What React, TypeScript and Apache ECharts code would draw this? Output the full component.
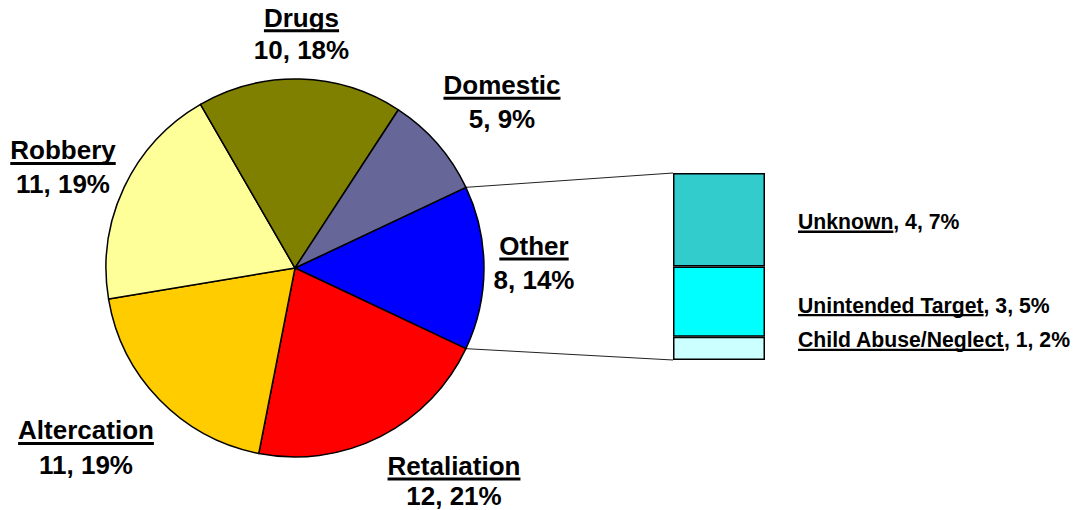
import React, { useEffect, useRef } from "react";
import * as echarts from "echarts";

// ---- data ----
const pieCategories = ["Other", "Retaliation", "Altercation", "Robbery", "Drugs", "Domestic"];
const pieValues = [8, 12, 11, 11, 10, 5];
const pieColors = ["#0000FF", "#FF0000", "#FFCC00", "#FFFF99", "#808000", "#666699"];

const otherCategories = ["Child Abuse/Neglect", "Unintended Target", "Unknown"];
const otherValues = [1, 3, 4];
const otherColors = ["#CCFFFF", "#00FFFF", "#33CCCC"];

// ---- layout ----
const W = 1089;
const H = 510;
const PIE_CX = 295;
const PIE_CY = 268;
const PIE_R = 189;
const BAR_LEFT = 673;
const BAR_TOP = 173;
const BAR_W = 92;
const BAR_H = 187;
const FONT = '"Liberation Sans", Arial, sans-serif';
const PIE_FS = 26;
const BAR_FS = 21.2;

// label placement (Excel-like): [centre x, first-line baseline, line spacing]
const pieLabelPos: Record<string, [number, number, number]> = {
  Other: [534, 255, 34],
  Retaliation: [454, 475, 30],
  Altercation: [86, 439.5, 35],
  Robbery: [63, 159.5, 34],
  Drugs: [301.5, 26.7, 32],
  Domestic: [502, 94.3, 34],
};
const barLabelOffset: Record<string, number> = {
  "Child Abuse/Neglect": -7,
  "Unintended Target": 5,
  Unknown: 3.5,
};

function measure(text: string, size: number): number {
  const ctx = document.createElement("canvas").getContext("2d");
  if (!ctx) return text.length * size * 0.6;
  ctx.font = `bold ${size}px "Liberation Sans", Arial, sans-serif`;
  return ctx.measureText(text).width;
}

export default function App() {
  const ref = useRef<HTMLDivElement>(null);

  useEffect(() => {
    if (!ref.current) return;
    const chart = echarts.init(ref.current, undefined, { renderer: "svg" });
    const total = pieValues.reduce((a, b) => a + b, 0);
    const pct = (v: number) => Math.round((v / total) * 100);
    const halfOther = (pieValues[0] / total) * 180;
    const rad = (halfOther * Math.PI) / 180;
    const p1 = [PIE_CX + PIE_R * Math.cos(rad), PIE_CY - PIE_R * Math.sin(rad)];
    const p2 = [PIE_CX + PIE_R * Math.cos(rad), PIE_CY + PIE_R * Math.sin(rad)];

    const line1H = 22;
    const ulH = 4;
    const base1 = line1H / 2 + 0.3465 * PIE_FS;

    const pieData = pieCategories.map((name, i) => {
      const s = pieLabelPos[name][2];
      const line2H = 2 * (s - (line1H - base1) - ulH - 0.3465 * PIE_FS);
      return {
        name,
        value: pieValues[i],
        itemStyle: { color: pieColors[i] },
        label: {
          formatter: `{n|${name}}\n{u| }\n{v|${pieValues[i]}, ${pct(pieValues[i])}%}`,
          rich: {
            n: { fontFamily: FONT, fontWeight: "bold", fontSize: PIE_FS, lineHeight: line1H, color: "#000" },
            u: { width: measure(name, PIE_FS), height: 3, lineHeight: ulH, fontSize: 1, backgroundColor: "#000" },
            v: { fontFamily: FONT, fontWeight: "bold", fontSize: PIE_FS, lineHeight: line2H, color: "#000" },
          },
        },
        _blockH: line1H + ulH + line2H,
      };
    });

    const barSeries = otherCategories.map((name, i) => ({
      type: "bar",
      name,
      stack: "other",
      barWidth: "100%",
      data: [otherValues[i]],
      itemStyle: { color: otherColors[i], borderColor: "#000", borderWidth: 1.5 },
      label: {
        show: true,
        position: "right",
        distance: 33,
        offset: [0, barLabelOffset[name] || 0],
        formatter: `{n|${name}}{r|, ${otherValues[i]}, ${pct(otherValues[i])}%}\n{u| }`,
        rich: {
          n: { fontFamily: FONT, fontWeight: "bold", fontSize: BAR_FS, lineHeight: 17, color: "#000" },
          r: { fontFamily: FONT, fontWeight: "bold", fontSize: BAR_FS, lineHeight: 17, color: "#000" },
          u: { width: measure(name, BAR_FS), height: 2.3, lineHeight: 3, fontSize: 1, backgroundColor: "#000" },
        },
      },
    }));

    chart.setOption({
      animation: false,
      backgroundColor: "#fff",
      grid: { left: BAR_LEFT, top: BAR_TOP, width: BAR_W, height: BAR_H },
      xAxis: { type: "category", data: ["Other"], show: false },
      yAxis: { type: "value", min: 0, max: 8, show: false },
      series: [
        {
          type: "pie",
          center: [PIE_CX, PIE_CY],
          radius: [0, PIE_R],
          startAngle: halfOther,
          clockwise: true,
          avoidLabelOverlap: false,
          itemStyle: { borderColor: "#000", borderWidth: 1.5 },
          label: { show: true, position: "outside" },
          labelLine: { show: false },
          emphasis: { disabled: true },
          labelLayout: (params: any) => {
            const name = pieCategories[params.dataIndex];
            const pos = pieLabelPos[name];
            const blockH = (pieData[params.dataIndex] as any)._blockH;
            return {
              x: pos[0],
              y: pos[1] - base1 + blockH / 2,
              align: "center",
              verticalAlign: "middle",
            };
          },
          data: pieData.map(({ _blockH, ...d }) => d),
        },
        ...barSeries,
      ],
      graphic: [
        {
          type: "line",
          shape: { x1: p1[0], y1: p1[1], x2: BAR_LEFT, y2: BAR_TOP },
          style: { stroke: "#222", lineWidth: 1 },
        },
        {
          type: "line",
          shape: { x1: p2[0], y1: p2[1], x2: BAR_LEFT, y2: BAR_TOP + BAR_H },
          style: { stroke: "#222", lineWidth: 1 },
        },
      ],
    });
    return () => chart.dispose();
  }, []);

  return (
    <div
      ref={ref}
      style={{ position: "absolute", left: 0, top: 0, width: W, height: H, background: "#fff" }}
    />
  );
}
